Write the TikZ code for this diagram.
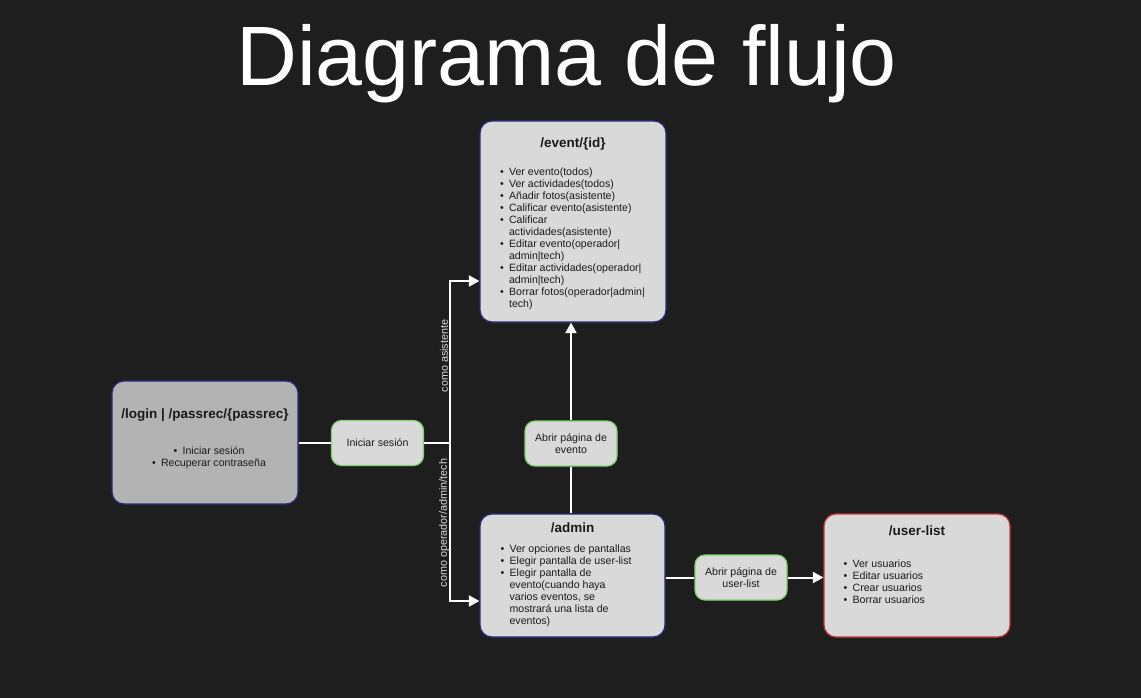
\documentclass[tikz,border=0pt]{standalone}
\usepackage{fontspec}
\setmainfont{Liberation Sans}
\usetikzlibrary{calc}
\usetikzlibrary{arrows.meta}
\definecolor{bg}{HTML}{1E1E1E}
\definecolor{boxgray}{HTML}{D9D9D9}
\definecolor{logingray}{HTML}{B3B3B3}
\definecolor{navy}{HTML}{2A2880}
\definecolor{okgreen}{HTML}{7ED46E}
\definecolor{badred}{HTML}{C8323C}
\definecolor{ink}{HTML}{1A1A1A}
\newcommand\bodyfont{\fontsize{10.6}{12}\selectfont}
\newcommand\li[1]{\makebox[9pt][l]{\textbullet}#1}
\newcommand\lc[1]{\hspace*{9pt}#1}

\begin{document}
\begin{tikzpicture}[
        x=1pt, y=-1pt,
        screen/.style={draw=navy, fill=boxgray, line width=1.2pt, rounded corners=12pt,
            minimum width=186pt, minimum height=123pt, inner sep=0pt},
        action/.style={draw=okgreen, fill=boxgray, line width=1.2pt, rounded corners=10pt,
            minimum width=92pt, minimum height=45pt, inner sep=0pt, align=center,
            text=ink, font=\bodyfont},
        heading/.style={text=ink, font=\fontsize{13.5}{15}\selectfont\bfseries, inner sep=0pt},
        list/.style={text=ink, font=\bodyfont, align=left, inner sep=0pt},
        tag/.style={text=white!85!black, font=\fontsize{10.8}{12}\selectfont, rotate=90, inner sep=0pt},
        wire/.style={draw=white, line width=2pt},
        arr/.style={wire, -{Triangle[length=10.5pt, width=11pt]}}
    ]

    \fill[bg] (0,0) rectangle (1141,698);
    \useasboundingbox (0,0) rectangle (1141,698);

    \node[anchor=base, text=white, font=\fontsize{84.3}{90}\selectfont, inner sep=0pt] (title) at (566.5,86) {Diagrama de flujo};

    % screens
    \node[screen, minimum height=201pt] (event) at (573,221.5) {};
    \node[screen, fill=logingray] (login) at (205,442.5) {};
    \node[screen, minimum width=185pt] (admin) at (572.5,575.5) {};
    \node[screen, draw=badred] (ulist) at (917,575.5) {};

    % actions
    \node[action] (ini) at (377.5,443) {Iniciar sesión};
    \node[action] (abrev) at (571,443.5) {Abrir página de\\evento};
    \node[action] (abrul) at (741,577.5) {Abrir página de\\user-list};

    % contents
    \node[heading] (eventT) at ($(event.north)+(0,24)$) {/event/\{id\}};
    \node[list, anchor=north west] (eventL) at ($(event.north west)+(20.5,47.5)$) {
        \li{Ver evento(todos)}\\ \li{Ver actividades(todos)}\\ \li{Añadir fotos(asistente)}\\
        \li{Calificar evento(asistente)}\\ \li{Calificar}\\ \lc{actividades(asistente)}\\
        \li{Editar evento(operador|}\\ \lc{admin|tech)}\\ \li{Editar actividades(operador|}\\
        \lc{admin|tech)}\\ \li{Borrar fotos(operador|admin|}\\ \lc{tech)}};

    \node[heading] (loginT) at (205,415) {/login | /passrec/\{passrec\}};
    \node[list, align=center, anchor=north] (loginL) at (209,446) {
        \li{Iniciar sesión}\\ \li{Recuperar contraseña}};

    \node[heading] (adminT) at ($(admin.north)+(0,14)$) {/admin};
    \node[list, anchor=north west] (adminL) at ($(admin.north west)+(21,31.5)$) {
        \li{Ver opciones de pantallas}\\ \li{Elegir pantalla de user-list}\\
        \li{Elegir pantalla de}\\ \lc{evento(cuando haya}\\ \lc{varios eventos, se}\\
        \lc{mostrará una lista de}\\ \lc{eventos)}};

    \node[heading] (ulistT) at ($(ulist.north)+(0,17)$) {/user-list};
    \node[list, anchor=north west] (ulistL) at ($(ulist.north west)+(20,46.5)$) {
        \li{Ver usuarios}\\ \li{Editar usuarios}\\ \li{Crear usuarios}\\ \li{Borrar usuarios}};

    % connectors
    \coordinate (split) at (450,443);
    \coordinate (evin) at (event.west |- 0,281);
    \coordinate (admin_in) at (admin.west |- 0,601);
    \draw[wire] (login.east |- ini.west) -- (ini.west);
    \draw[wire] (ini.east) -- (split);
    \draw[arr] (split) |- (evin);
    \draw[arr] (split) |- (admin_in);
    \node[tag] (asis) at (444,356) {como asistente};
    \node[tag] (oper) at (444,523) {como operador/admin/tech};

    \draw[wire] (admin.north -| abrev.south) -- (abrev.south);
    \draw[arr] (abrev.north) -- (abrev.north |- event.south);
    \draw[wire] (admin.east |- abrul.west) -- (abrul.west);
    \draw[arr] (abrul.east) -- (ulist.west |- abrul.east);
    \end{tikzpicture}
\end{document}
